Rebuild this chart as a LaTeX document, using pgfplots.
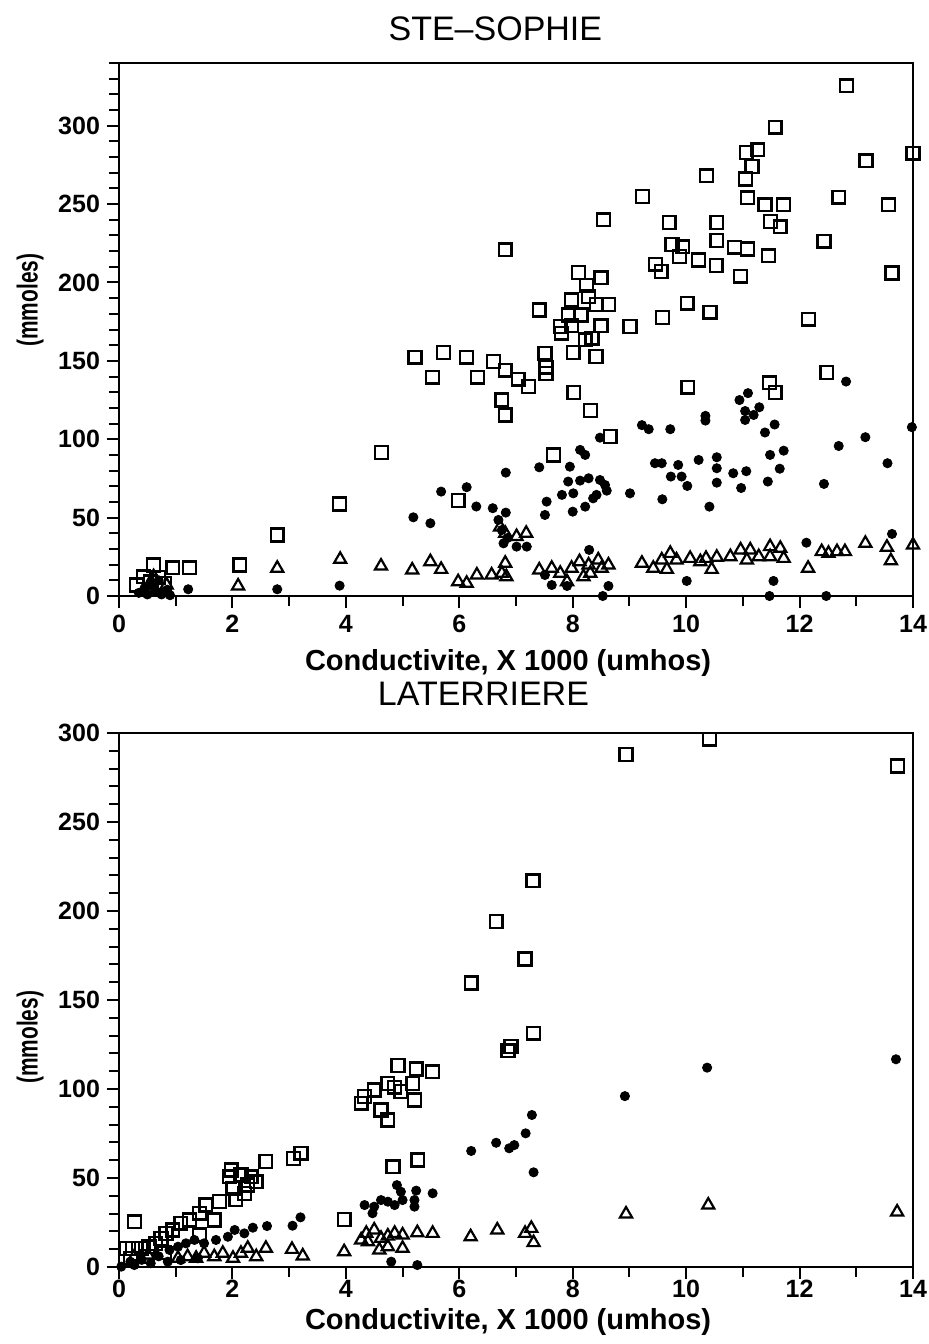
\documentclass[border=0pt]{standalone}
\usepackage{fontspec}
\setmainfont{Liberation Sans}
\usepackage{graphicx}
\usepackage{pgfplots}
\pgfplotsset{compat=1.18}

\pgfplotsset{
  scanplot/.style={
    scale only axis, width=397pt,
    xmin=0, xmax=14, ymin=0,
    xtick={0,2,...,14}, minor xtick={1,3,...,13},
    tick align=outside, tick pos=left,
    major tick length=6pt, minor tick length=5pt,
    every tick/.style={black, line width=1pt},
    axis line style={line width=1pt},
    clip=false,
    /pgf/number format/assume math mode=true,
    tick label style={font=\bfseries\fontsize{12.5}{14}\selectfont},
    label style={font=\bfseries\fontsize{14.5}{16}\selectfont},
    title style={font=\fontsize{17}{19}\selectfont, anchor=center},
  },
  sq/.style={only marks, mark=square, mark size=3.2pt, mark options={line width=1.2pt, black}},
  dot/.style={only marks, mark=*, mark size=2.3pt, mark options={black}},
  tri/.style={only marks, mark=triangle, mark size=3.5pt, mark options={line width=1.1pt, black}},
}

\begin{document}
\begin{tikzpicture}
\path[use as bounding box] (-59.5pt,-374pt) rectangle (405pt,298pt);

% STE-SOPHIE
\begin{axis}[scanplot,
    height=266.5pt, ymax=340,
    ytick={0,50,...,300}, minor ytick={0,10,...,340},
    title={STE--SOPHIE},
    title style={at={(axis description cs:0.474,1)}, anchor=center, yshift=11pt},
    xlabel={Conductivite, X 1000 (umhos)},
    xlabel style={at={(axis description cs:0.49,0)}, anchor=center, yshift=-33.5pt},
    ylabel={\scalebox{0.72}[1]{(mmoles)}},
    ylabel style={at={(axis description cs:-0.112,0.555)}, anchor=center},
]
\addplot[sq] coordinates {
(12.83,325.5) (11.57,299) (11.06,283) (11.26,284.6) (11.16,274) (11.05,266)
(14.0,282.5) (13.17,277.6) (10.36,268) (9.23,254.8) (11.08,254) (11.39,249.5)
(11.72,249.5) (12.69,254.4) (13.57,249.5) (8.54,240) (9.70,238.3) (10.54,238.3)
(11.49,238.9) (11.66,235.5) (12.43,226.3) (10.54,226.7) (9.75,224.2) (9.94,222.7)
(9.88,216.6) (10.22,214.4) (10.53,210.8) (10.85,222.5) (11.08,221.3) (11.45,217)
(10.96,204) (13.63,206) (9.46,211.7) (9.56,207) (6.81,220.8) (8.10,206.3)
(8.50,203) (8.24,198) (8.28,190.8) (7.98,189) (8.42,186) (8.63,186)
(7.41,182.5) (7.92,179.3) (8.15,179.3) (7.98,172.3) (7.78,172) (7.80,167.6)
(8.50,172.3) (9.01,172) (9.58,177.7) (10.02,186.8) (10.42,181) (12.16,176.6)
(8.22,163.4) (8.34,164.5) (7.51,154.9) (8.01,155.3) (8.41,152.7) (7.53,146)
(7.53,142) (6.81,144) (7.04,138.3) (7.22,133.6) (6.75,125) (6.81,115.5)
(8.02,129.8) (8.31,118.3) (8.66,101.7) (7.66,90) (10.03,133.2) (11.47,136)
(11.57,129.8) (12.48,142.5) (5.22,152.3) (5.72,155.3) (5.53,139.6) (6.13,152.3)
(6.32,139.6) (6.60,149.5) (4.63,91.5) (5.98,60.8) (3.89,58.7) (2.79,38.9)
(2.13,19.8) (1.24,18) (0.95,18) (0.61,19.8) (0.43,12.3) (0.31,7)
(0.55,9) (0.70,12) (0.80,8)
};
\addplot[dot] coordinates {
(6.82,78.7) (5.68,66.6) (6.13,69.4) (5.19,50.2) (5.49,46.4) (6.30,57.1)
(6.59,56) (6.82,53.2) (6.69,48.5) (6.75,42.1) (6.78,33.6) (7.01,31.5)
(7.19,31.5) (6.85,37) (3.89,6.6) (2.79,4.3) (1.22,4.3) (7.41,82.1)
(7.95,82.5) (8.13,93.2) (8.22,90) (8.48,101) (7.92,73) (8.13,73.6)
(8.28,75.1) (8.48,74) (8.57,70.8) (8.60,67.2) (7.54,60.2) (7.81,64.5)
(8.01,65.5) (7.51,51.7) (8.0,53.8) (8.22,57) (8.36,62.3) (8.42,64.5)
(9.01,65.5) (9.22,109) (9.34,106.4) (9.72,106.4) (10.34,114.9) (10.34,111.9)
(9.45,84.7) (9.57,84.7) (9.86,83.6) (9.73,76.2) (9.92,76.2) (10.02,70.2)
(9.58,61.7) (10.22,86.8) (10.54,88.5) (10.54,81.5) (10.54,72.3) (10.41,57)
(10.83,78.3) (11.06,79.6) (10.97,68.9) (10.94,125) (11.09,129.4) (11.04,118)
(11.04,112.3) (11.19,115.5) (11.29,120.4) (11.39,104.3) (11.56,109.4) (11.48,90)
(11.72,92.7) (11.65,81.2) (11.44,73) (11.54,9.6) (10.01,9.6) (12.12,34)
(12.43,71.5) (12.69,95.7) (12.82,136.8) (13.16,101.3) (13.55,84.7) (13.63,39.6)
(13.98,107.7) (8.53,0) (11.47,0) (12.47,0) (7.63,7) (7.90,6.4)
(8.63,6.4) (7.51,13.4) (8.29,29.4) (0.35,2) (0.45,5) (0.50,1)
(0.60,6) (0.65,3) (0.75,1) (0.85,4) (0.90,0.5) (0.55,8) (0.70,10)
};
\addplot[tri] coordinates {
(3.90,23.4) (2.79,17.7) (2.10,6.4) (4.62,19.1) (5.17,16.6) (5.49,21.9)
(5.68,17) (5.98,9.1) (6.13,8.1) (6.31,13.4) (6.57,13.4) (6.75,14.5)
(6.81,20.9) (6.83,12.3) (6.72,44) (6.81,40) (7.01,37.9) (7.18,40)
(0.61,12.3) (0.84,7) (0.50,5) (7.41,16.6) (7.63,17.7) (7.78,14.5)
(7.90,9.1) (7.98,17.7) (8.12,21.9) (8.28,19.8) (8.31,14.5) (8.45,23)
(8.51,17.7) (8.63,19.8) (8.19,12.3) (9.22,20.9) (9.42,17.7) (9.57,23)
(9.72,27.2) (9.66,17) (9.83,23) (10.07,24) (10.25,21.9) (10.35,24)
(10.54,24.7) (10.45,17) (10.78,25.1) (10.96,29.4) (11.13,29.4) (11.07,23)
(11.28,25.1) (11.48,31.5) (11.66,30.4) (11.72,24) (11.48,25.1) (12.15,17.7)
(12.39,28.3) (12.51,27.2) (12.66,28.3) (12.80,28.3) (13.16,33.6) (13.54,31.1)
(13.61,22.5) (14.0,32.5)
};
\end{axis}

% LATERRIERE
\begin{axis}[scanplot,
    at={(0,-68.5pt)}, anchor=north west,
    height=267pt, ymax=300,
    ytick={0,50,...,300}, minor ytick={0,10,...,300},
    title={LATERRIERE},
    title style={at={(axis description cs:0.459,1)}, anchor=center, yshift=13.5pt},
    xlabel={Conductivite, X 1000 (umhos)},
    xlabel style={at={(axis description cs:0.49,0)}, anchor=center, yshift=-27.5pt},
    xticklabel style={yshift=3pt},
    ylabel={\scalebox{0.72}[1]{(mmoles)}},
    ylabel style={at={(axis description cs:-0.112,0.43)}, anchor=center},
]
\addplot[sq] coordinates {
(10.41,296.5) (8.94,288) (13.73,281.5) (7.30,217) (6.65,194) (7.16,173)
(6.91,123.8) (6.86,121.5) (7.31,131.3) (6.21,159.6) (4.92,113.1) (5.24,111.2)
(5.53,109.7) (4.74,103.2) (4.86,101) (4.97,98.5) (5.18,103.2) (5.21,93.8)
(4.33,95.7) (4.27,92) (4.50,99.4) (4.62,88.2) (4.74,82.6) (4.83,56.3)
(5.27,60.1) (3.97,26.8) (2.59,59.2) (3.08,61) (3.21,63.9) (1.98,54.5)
(1.95,50.7) (2.15,51.7) (2.33,50.7) (2.42,47.9) (2.01,44.2) (2.21,41.4)
(2.06,38) (2.27,46.1) (1.77,36.7) (1.53,34.8) (1.68,26.4) (1.42,30.2)
(1.24,26.4) (1.09,24.6) (0.95,20.8) (0.83,18.9) (0.74,16.1) (0.65,13.3)
(0.53,11.4) (0.39,10.5) (0.24,10.5) (0.12,10.5) (0.27,25.4) (1.42,18)
(0.20,5) (0.50,6) (0.80,8)
};
\addplot[dot] coordinates {
(6.21,65.2) (6.65,69.8) (6.88,66.7) (6.97,68.5) (4.90,46) (4.97,42.3)
(5.24,42.9) (5.53,41.4) (5.21,37.6) (5.21,33.9) (5.0,37.6) (4.86,34.8)
(4.62,37.6) (4.50,33.9) (4.33,34.8) (4.47,30.2) (4.74,36.7) (3.20,27.9)
(3.06,23.2) (2.61,23) (2.36,22.1) (2.21,18.9) (2.04,20.8) (1.92,17)
(1.71,15.2) (1.50,13.3) (1.33,15.2) (1.18,13.3) (1.04,11.4) (0.89,9.6)
(0.04,0.2) (0.27,1.1) (0.56,2.1) (0.86,3) (1.09,3.9) (1.39,4.9)
(4.80,3) (5.26,1.1) (8.92,96) (10.37,112) (13.70,116.7) (7.28,85.4)
(7.17,75.1) (7.31,53.2) (0.40,4) (0.70,6) (0.20,3)
};
\addplot[tri] coordinates {
(8.94,29.8) (10.39,34.8) (13.72,30.9) (7.27,21.7) (7.16,18.9) (7.31,13.7)
(6.20,17) (6.67,20.8) (5.53,18.9) (5.26,19.3) (5.0,18) (4.86,18.9)
(4.74,17.4) (4.62,16.1) (4.50,20.8) (4.36,18.9) (4.27,15.2) (4.39,14.2)
(4.59,9.6) (4.74,11.4) (5.0,10.5) (3.97,8.6) (3.05,9.9) (3.24,6.2)
(2.59,10.5) (2.42,5.8) (2.27,10.5) (2.15,7.7) (2.01,4.9) (1.83,7.7)
(1.68,5.8) (1.50,7.7) (1.36,4.9) (1.21,5.8) (1.04,4.9) (0.27,5.8)
(0.51,6.7)
};
\end{axis}
\end{tikzpicture}
\end{document}
